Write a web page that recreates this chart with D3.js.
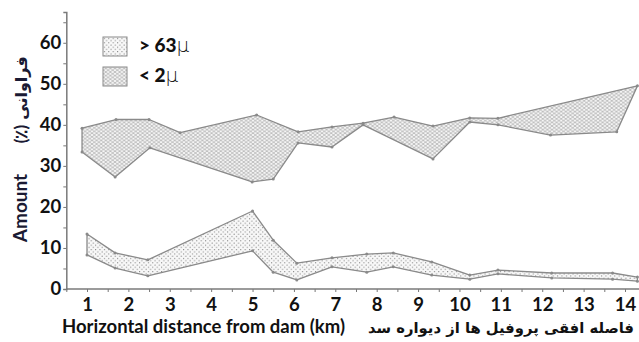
<!DOCTYPE html>
<html>
<head>
<meta charset="utf-8">
<script src="https://cdn.jsdelivr.net/npm/d3@7"></script>
<style>
  body { margin: 0; background: #fff; }
  svg { display: block; }
  .tick text { font-family: Lato, "Noto Sans", sans-serif; font-weight: 700; font-size: 18.5px; fill: #111; }
</style>
</head>
<body>
<svg id="chart"></svg>
<script>
// <2 micron band (clay), outline vertices [km, %]
const clayTopKm = [0.88, 1.7, 2.5, 3.25, 5.1, 6.1, 6.92, 7.67, 8.42, 9.36, 10.25, 10.93, 14.3];
const clayTopVal = [39.2, 41.3, 41.3, 38.1, 42.4, 38.3, 39.5, 40.4, 41.9, 39.7, 41.7, 41.6, 49.5];
const clayBotKm = [0.88, 1.68, 2.52, 4.99, 5.5, 6.1, 6.92, 7.67, 9.36, 10.25, 10.93, 12.2, 13.8];
const clayBotVal = [33.4, 27.3, 34.4, 26.1, 26.8, 35.6, 34.6, 40.0, 31.7, 40.7, 40.0, 37.5, 38.3];

// >63 micron band (sand)
const sandKm = [1.0, 1.68, 2.47, 5.0, 5.5, 6.07, 6.92, 7.76, 8.4, 9.33, 10.25, 10.93, 12.23, 13.7, 14.3];
const sandTop = [13.4, 8.8, 7.1, 19.0, 11.9, 6.3, 7.6, 8.5, 8.8, 6.6, 3.4, 4.6, 3.9, 3.9, 2.9];
const sandBot = [8.3, 5.1, 3.2, 9.3, 4.1, 2.2, 5.4, 4.1, 5.4, 3.4, 2.4, 3.7, 2.7, 2.4, 1.9];

const xTicks = d3.range(0.5, 15, 0.5);
const yTicks = d3.range(0, 70, 5);

const width = 639, height = 342;
const svg = d3.select("#chart").attr("width", width).attr("height", height);

const x = d3.scaleLinear().domain([1, 14]).range([87, 625]);
const y = d3.scaleLinear().domain([0, 67.5]).range([289, 12]);

const defs = svg.append("defs");
const mesh = defs.append("pattern").attr("id", "mesh")
  .attr("patternUnits", "userSpaceOnUse").attr("width", 4.6).attr("height", 3.6);
mesh.append("rect").attr("width", 4.6).attr("height", 3.6).attr("fill", "#f6f6f6");
mesh.append("path").attr("d", "M0,0 L4.6,3.6 M4.6,0 L0,3.6")
  .attr("stroke", "#a6a6a6").attr("stroke-width", 0.7).attr("fill", "none");

const dots = defs.append("pattern").attr("id", "dots")
  .attr("patternUnits", "userSpaceOnUse").attr("width", 4.4).attr("height", 4.4);
dots.append("rect").attr("width", 4.4).attr("height", 4.4).attr("fill", "#f8f8f8");
dots.append("circle").attr("cx", 1).attr("cy", 1).attr("r", 0.6).attr("fill", "#777");
dots.append("circle").attr("cx", 3.2).attr("cy", 3.2).attr("r", 0.6).attr("fill", "#777");

const line = d3.line().x(d => x(d[0])).y(d => y(d[1]));

function band(top, bot, fill) {
  const pts = top.concat(bot.slice().reverse());
  svg.append("path")
    .attr("d", line(pts) + "Z")
    .attr("fill", `url(#${fill})`)
    .attr("stroke", "#8a8a8a")
    .attr("stroke-width", 1.3)
    .attr("stroke-linejoin", "round");
  svg.append("g").selectAll("circle")
    .data(pts)
    .join("circle")
    .attr("cx", d => x(d[0]))
    .attr("cy", d => y(d[1]))
    .attr("r", 1.5)
    .attr("fill", "#8a8a8a");
}

band(clayTopKm.map((k, i) => [k, clayTopVal[i]]), clayBotKm.map((k, i) => [k, clayBotVal[i]]), "mesh");
band(sandKm.map((k, i) => [k, sandTop[i]]), sandKm.map((k, i) => [k, sandBot[i]]), "dots");

// axes
const xAxis = svg.append("g")
  .attr("transform", `translate(0,${y(0)})`)
  .call(d3.axisBottom(x).tickValues(xTicks).tickSize(3)
    .tickFormat(d => Number.isInteger(d) ? d : ""));
xAxis.select(".domain").remove();
xAxis.selectAll(".tick line").attr("stroke", "#777");
xAxis.selectAll(".tick text").attr("dy", "0.85em");

svg.append("line")
  .attr("x1", x(0.5)).attr("x2", width)
  .attr("y1", y(0)).attr("y2", y(0))
  .attr("stroke", "#7a7a7a").attr("stroke-width", 1.5);

const yAxis = svg.append("g")
  .attr("transform", `translate(${x(0.5)},0)`)
  .call(d3.axisLeft(y).tickValues(yTicks).tickSize(3)
    .tickFormat(d => d % 10 === 0 ? d : ""));
yAxis.select(".domain").attr("stroke", "#7a7a7a").attr("stroke-width", 1.5);
yAxis.selectAll(".tick line").attr("stroke", "#777");
yAxis.selectAll(".tick text").attr("x", -5);

// legend
const legendItems = [
  { fill: "dots", label: "> 63", y: 37 },
  { fill: "mesh", label: "< 2", y: 67 }
];
const lg = svg.append("g");
legendItems.forEach(it => {
  lg.append("rect").attr("x", 103).attr("y", it.y).attr("width", 24).attr("height", 19)
    .attr("fill", `url(#${it.fill})`).attr("stroke", "#8a8a8a").attr("stroke-width", 1);
  const t = lg.append("text").attr("x", 139).attr("y", it.y + 15)
    .attr("font-family", "Lato, sans-serif").attr("font-size", 19).attr("fill", "#111");
  t.append("tspan").attr("font-weight", 900).text(it.label);
  t.append("tspan").attr("font-weight", 300).attr("font-family", "'DejaVu Sans', sans-serif").attr("font-size", 20).text("\u00b5");
});

// axis titles
svg.append("text")
  .attr("x", 62).attr("y", 333)
  .attr("font-family", "Lato, sans-serif").attr("font-weight", 700).attr("font-size", 18.5)
  .attr("fill", "#111")
  .text("Horizontal distance from dam (km)");
svg.append("text")
  .attr("x", 634).attr("y", 333)
  .attr("text-anchor", "end")
  .attr("font-family", "'DejaVu Sans', sans-serif").attr("font-weight", 700).attr("font-size", 14.8)
  .attr("fill", "#111")
  .text("فاصله افقی پروفیل ها از دیواره سد");

const yl = svg.append("g").attr("font-weight", 700).attr("fill", "#1a1a33");
yl.append("text").attr("transform", "translate(27,208) rotate(-90)")
  .attr("text-anchor", "middle").attr("font-family", "Lato, sans-serif").attr("font-size", 19)
  .text("Amount");
yl.append("text").attr("transform", "translate(27,134) rotate(-90)")
  .attr("text-anchor", "middle").attr("font-family", "Lato, sans-serif").attr("font-size", 17)
  .text("(٪)");
yl.append("text").attr("transform", "translate(27,88) rotate(-90)")
  .attr("text-anchor", "middle").attr("font-family", "'DejaVu Sans', sans-serif").attr("font-size", 16)
  .text("فراوانی");
</script>
</body>
</html>
